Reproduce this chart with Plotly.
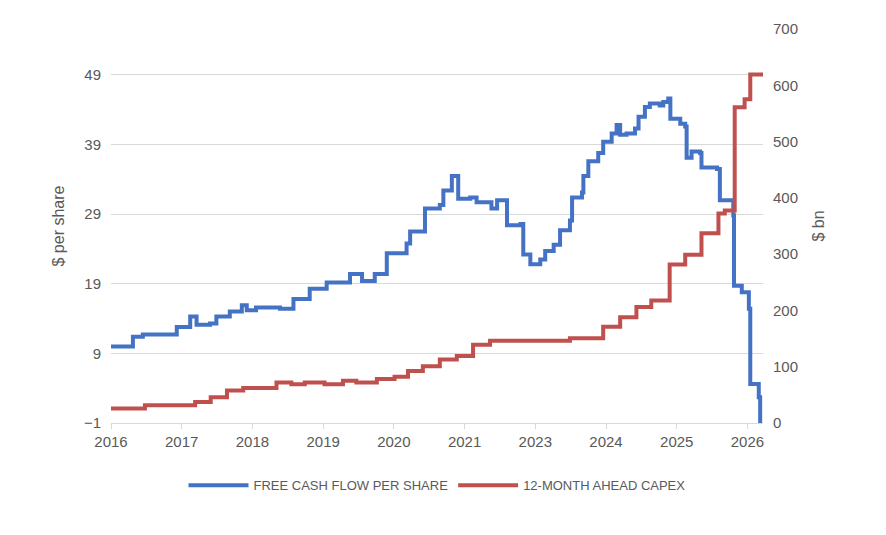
import plotly.graph_objects as go

tick_pos = [0,1,2,3,4,5,6,7,8,9]
tick_text = ["2016","2017","2018","2019","2020","2021","2023","2024","2025","2026"]

fcf_x = [0.0,0.31,0.45,0.93,1.12,1.21,1.40,1.49,1.68,1.85,1.92,2.05,2.39,2.58,2.81,3.05,3.38,3.55,3.73,3.90,4.18,4.23,4.37,4.44,4.65,4.70,4.82,4.89,4.91,5.08,5.17,5.36,5.38,5.46,5.52,5.60,5.79,5.83,5.93,6.07,6.14,6.26,6.35,6.49,6.52,6.66,6.68,6.75,6.89,6.96,7.08,7.15,7.20,7.29,7.41,7.46,7.55,7.62,7.76,7.81,7.88,7.91,8.05,8.12,8.14,8.21,8.33,8.35,8.57,8.61,8.78,8.80,8.81,8.92,9.02,9.04,9.16,9.18]
fcf_y = [10.0,11.4,11.7,12.8,14.3,13.1,13.3,14.3,15.0,15.9,15.2,15.6,15.4,16.8,18.3,19.2,20.4,19.4,20.4,23.4,24.8,26.5,26.5,29.8,30.3,32.4,34.5,34.5,31.2,31.4,30.7,30.7,29.8,31.0,31.0,27.4,27.6,23.2,21.8,22.5,23.7,24.6,26.7,28.1,31.4,32.1,34.5,36.6,37.8,39.4,40.6,41.8,40.4,40.6,41.3,43.0,44.4,44.9,44.6,45.1,45.6,42.7,42.0,41.6,37.1,38.0,37.8,35.7,35.5,31.0,31.0,28.8,18.7,17.8,15.4,4.6,2.7,-1.0]

capex_x = [0.0,0.48,1.19,1.41,1.64,1.87,2.34,2.55,2.74,3.02,3.28,3.47,3.76,4.01,4.20,4.41,4.65,4.89,5.12,5.36,6.49,6.96,7.20,7.43,7.64,7.90,8.12,8.35,8.59,8.68,8.82,8.96,9.04,9.22]
capex_y = [25.6,31.4,37.2,45.9,57.6,62.3,72,69,72,69,75,72,78,82,92.5,101,113,119,139,146,150.6,171,188,206,217.6,281.5,299,337,372,377.5,561,575,619,621]

blue = "#4472C4"
red = "#C0504D"
grey = "#595959"
font = "Liberation Sans"

fig = go.Figure()
fig.add_trace(go.Scatter(x=fcf_x, y=fcf_y, mode="lines", line=dict(color=blue, width=4, shape="hv"),
                         name="FREE CASH FLOW PER SHARE"))
fig.add_trace(go.Scatter(x=capex_x, y=capex_y, mode="lines", line=dict(color=red, width=4, shape="hv"),
                         name="12-MONTH AHEAD CAPEX", yaxis="y2"))

fig.update_layout(
    width=886, height=535, paper_bgcolor="white", plot_bgcolor="white",
    margin=dict(l=103, r=131, t=14, b=120),
    font=dict(family=font, size=14, color=grey),
    showlegend=True,
    legend=dict(orientation="h", x=0.5, xanchor="center", y=-0.12, yanchor="top",
                font=dict(size=13, color=grey), itemwidth=60),
    xaxis=dict(range=[0, 9.22], tickvals=tick_pos, ticktext=tick_text, showgrid=False,
               showline=True, linecolor="#D9D9D9", linewidth=1, ticks="outside", tickcolor="#D9D9D9",
               ticklen=5, zeroline=False, tickfont=dict(size=15, color=grey)),
    yaxis=dict(range=[-1, 55.6], tick0=-1, dtick=10, showgrid=True, gridcolor="#D9D9D9",
               zeroline=False, title=dict(text="$ per share", font=dict(size=16, color=grey)),
               tickfont=dict(size=15, color=grey), ticks="outside", ticklen=6, tickcolor="white"),
    yaxis2=dict(range=[0, 700], dtick=100, overlaying="y", side="right", showgrid=False,
                zeroline=False, title=dict(text="$ bn", font=dict(size=16, color=grey)),
                tickfont=dict(size=15, color=grey), ticks="outside", ticklen=6, tickcolor="white"),
)
fig.write_html("out.html")
